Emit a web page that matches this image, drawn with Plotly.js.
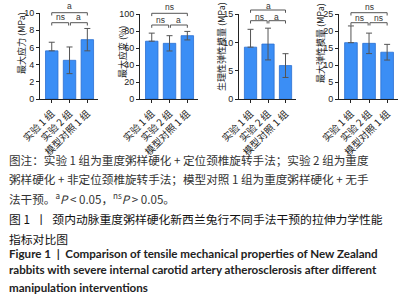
<!DOCTYPE html>
<html>
<head>
<meta charset="utf-8">
<script src="https://cdn.plot.ly/plotly-3.0.1.min.js"></script>
<style>html,body{margin:0;padding:0;background:#fff;}#chart{width:407px;height:300px;}</style>
</head>
<body>
<div id="chart"></div>
<script>
// ---- data ----
const categories = ["实验 1 组", "实验 2 组", "模型对照 1 组"];
const stressValues = [5.6, 4.5, 6.9];
const stressErrors = [1.0, 1.55, 1.3];
const strainValues = [68, 65.5, 74.5];
const strainErrors = [9.5, 9, 5];
const physModValues = [9.2, 9.75, 5.95];
const physModErrors = [3.15, 2.8, 2.1];
const maxModValues = [16.6, 16.4, 13.8];
const maxModErrors = [4.9, 3.0, 2.3];
const yTitles = ["最大应力 (MPa)", "最大应变 (%)", "生理性弹性模量 (MPa)", "最大弹性模量 (MPa)"];
const yMax = [10, 100, 15, 25];
const yDtick = [2, 20, 5, 5];
const sigTop = ["a", "ns", "a", "ns"];
const sigLeft = ["ns", "ns", "ns", "ns"];
const sigRight = ["a", "a", "a", "ns"];

const W = 407, H = 300;
const px = v => v / W;
const py = v => 1 - v / H;

const values = [stressValues, strainValues, physModValues, maxModValues];
const errors = [stressErrors, strainErrors, physModErrors, maxModErrors];

// panel geometry (pixels)
const panels = [
  {x0: 40, x1: 98, yTop: 13, yBot: 99, titleX: 22, titleY: 43, topB: 12.7, lowB: 22.7, topL: 6.3, lowL: 17},
  {x0: 140, x1: 198, yTop: 14, yBot: 99, titleX: 122, titleY: 52, topB: 13.3, lowB: 25, topL: 6.5, lowL: 20},
  {x0: 239, x1: 296, yTop: 14.3, yBot: 99.3, titleX: 221, titleY: 47, topB: 10, lowB: 20.7, topL: 6, lowL: 16.5},
  {x0: 339, x1: 398, yTop: 14, yBot: 99.3, titleX: 321, titleY: 43, topB: 12.7, lowB: 22.7, topL: 7, lowL: 18}
];

const traces = [];
const layout = {
  width: W, height: H,
  margin: {l: 0, r: 0, t: 0, b: 0},
  paper_bgcolor: "#ffffff",
  plot_bgcolor: "rgba(0,0,0,0)",
  showlegend: false,
  font: {family: "Noto Sans CJK SC, Liberation Sans, sans-serif", color: "#222"},
  shapes: [],
  annotations: []
};

panels.forEach((p, i) => {
  const n = i === 0 ? "" : String(i + 1);
  const xa = "x" + n, ya = "y" + n;
  const errMinus = errors[i].map((e, k) => k === 0 ? 0 : e);
  traces.push({
    type: "bar",
    x: categories,
    y: values[i],
    xaxis: xa, yaxis: ya,
    width: 0.7,
    marker: {color: "#3b8ef5", line: {color: "#2a6fd2", width: 0.8}},
    error_y: {type: "data", symmetric: false, array: errors[i], arrayminus: errMinus,
              color: "#555", thickness: 1, width: 3},
    hoverinfo: "none"
  });
  layout["xaxis" + n] = {
    domain: [px(p.x0), px(p.x1)],
    anchor: ya,
    range: [-0.66, 2.6],
    showline: true, linecolor: "#222", linewidth: 1,
    ticks: "outside", ticklen: 3, tickcolor: "#222",
    tickangle: -45,
    ticklabelstandoff: 1,
    tickfont: {size: 9.8, color: "#222", family: "Noto Sans CJK SC"},
    showgrid: false, zeroline: false, fixedrange: true
  };
  layout["yaxis" + n] = {
    domain: [py(p.yBot), py(p.yTop)],
    anchor: xa,
    range: [0, yMax[i]],
    dtick: yDtick[i],
    showline: true, linecolor: "#222", linewidth: 1,
    ticks: "outside", ticklen: 3, tickcolor: "#222",
    tickfont: {size: 9, color: "#222", family: "Liberation Sans, Arial, sans-serif"},
    showgrid: false, zeroline: false, fixedrange: true
  };
  // y title
  layout.annotations.push({
    xref: "paper", yref: "paper", x: px(p.titleX), y: py(p.titleY),
    text: yTitles[i], textangle: -90, showarrow: false,
    xanchor: "center", yanchor: "middle",
    font: {size: 9, color: "#222", family: "Noto Sans CJK SC"}
  });
  // significance brackets
  const tk = 2.8;
  const bc = "#555";
  layout.shapes.push({
    type: "path", xref: xa, yref: "paper",
    path: `M 0 ${py(p.topB + tk)} L 0 ${py(p.topB)} L 2 ${py(p.topB)} L 2 ${py(p.topB + tk)}`,
    line: {color: bc, width: 1}
  });
  layout.shapes.push({
    type: "path", xref: xa, yref: "paper",
    path: `M 0 ${py(p.lowB + tk)} L 0 ${py(p.lowB)} L 0.95 ${py(p.lowB)} L 0.95 ${py(p.lowB + tk)}`,
    line: {color: bc, width: 1}
  });
  layout.shapes.push({
    type: "path", xref: xa, yref: "paper",
    path: `M 1.05 ${py(p.lowB + tk)} L 1.05 ${py(p.lowB)} L 2 ${py(p.lowB)} L 2 ${py(p.lowB + tk)}`,
    line: {color: bc, width: 1}
  });
  const lf = {size: 8.5, color: "#333", family: "Liberation Sans, Arial, sans-serif"};
  layout.annotations.push({xref: xa, yref: "paper", x: 1, y: py(p.topL), text: sigTop[i],
    showarrow: false, xanchor: "center", yanchor: "middle", borderpad: 0, font: lf});
  layout.annotations.push({xref: xa, yref: "paper", x: 0.5, y: py(p.lowL), text: sigLeft[i],
    showarrow: false, xanchor: "center", yanchor: "middle", borderpad: 0, font: lf});
  layout.annotations.push({xref: xa, yref: "paper", x: 1.5, y: py(p.lowL), text: sigRight[i],
    showarrow: false, xanchor: "center", yanchor: "middle", borderpad: 0, font: lf});
});

// caption
const captionLines = [
  {t: "图注：实验 1 组为重度粥样硬化 + 定位颈椎旋转手法；实验 2 组为重度", y: 160, c: "#333", f: "Noto Sans CJK SC", s: 11.6},
  {t: "粥样硬化 + 非定位颈椎旋转手法；模型对照 1 组为重度粥样硬化 + 无手", y: 179, c: "#333", f: "Noto Sans CJK SC", s: 11.6},
  {t: "法干预。<sup>a</sup><i>P</i> < 0.05，<sup>ns</sup><i>P</i> > 0.05。", y: 198, c: "#333", f: "Noto Sans CJK SC", s: 11.6},
  {t: "图 1  丨  颈内动脉重度粥样硬化新西兰兔行不同手法干预的拉伸力学性能", y: 218, c: "#111", f: "Noto Sans CJK SC", s: 11.8},
  {t: "指标对比图", y: 238, c: "#111", f: "Noto Sans CJK SC", s: 11.8},
  {t: "<b>Figure 1  |  Comparison of tensile mechanical properties of New Zealand</b>", y: 253, c: "#222", f: "Lato", s: 11.6},
  {t: "<b>rabbits with severe internal carotid artery atherosclerosis after different</b>", y: 269, c: "#222", f: "Lato", s: 11.6},
  {t: "<b>manipulation interventions</b>", y: 287, c: "#222", f: "Lato", s: 11.6}
];
captionLines.forEach(l => {
  layout.annotations.push({
    xref: "paper", yref: "paper", x: px(7), y: py(l.y),
    text: l.t, showarrow: false, xanchor: "left", yanchor: "middle", align: "left",
    font: {size: l.s, color: l.c, family: l.f}
  });
});

Plotly.newPlot("chart", traces, layout, {staticPlot: true, displayModeBar: false});
</script>
</body>
</html>
